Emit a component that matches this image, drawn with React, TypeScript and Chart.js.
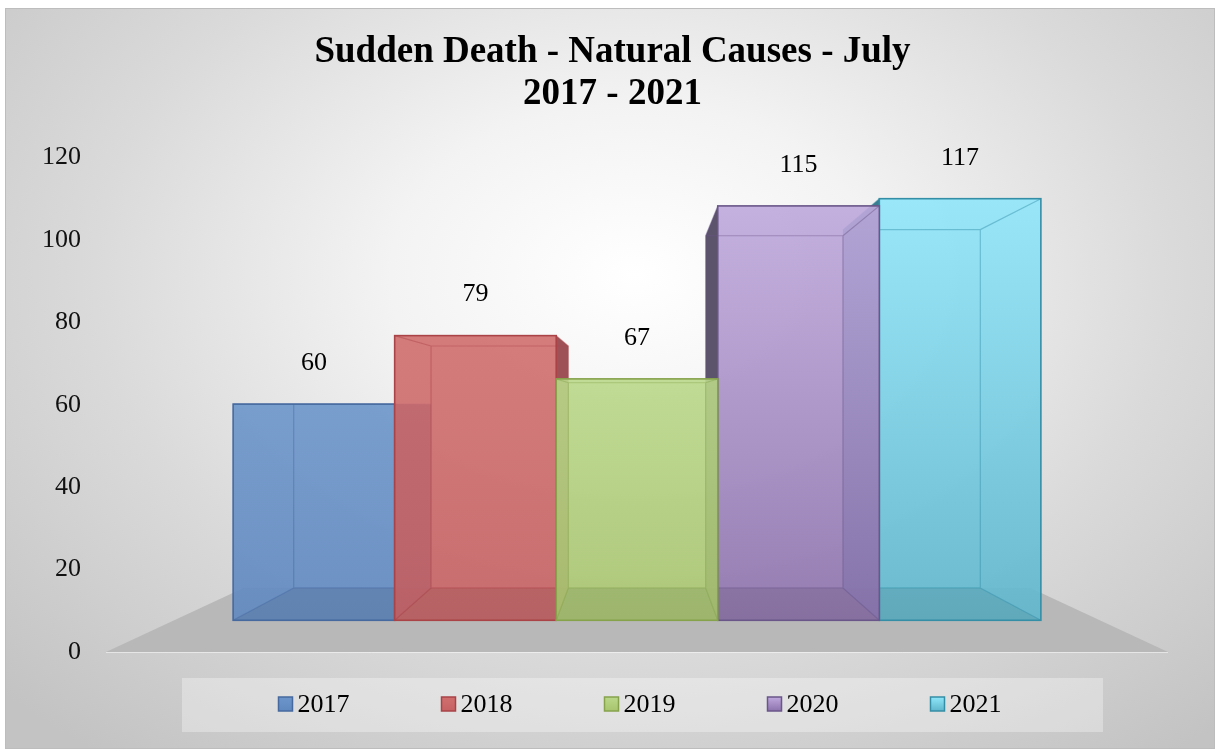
import React, { useEffect, useRef } from 'react';
import { Chart, registerables } from 'chart.js';

Chart.register(...registerables);

// ---- data ----
const titleLines = ['Sudden Death - Natural Causes - July', '2017 - 2021'];
const categories = ['July'];
const seriesNames = ['2017', '2018', '2019', '2020', '2021'];
const seriesValues = [60, 79, 67, 115, 117];
const axisMin = 0;
const axisMax = 120;
const axisStep = 20;

// ---- styles ----
const FONT = "'Liberation Serif', 'Times New Roman', serif";
const palette = [
  { top: '#6c96cb', bottom: '#5f88bf', border: '#46699f', side: '#3e5f92' },
  { top: '#d06e6e', bottom: '#c66163', border: '#a94348', side: '#96434a' },
  { top: '#bad88a', bottom: '#a8c46e', border: '#86a34c', side: '#78934a' },
  { top: '#bfa9dd', bottom: '#8d72ac', border: '#6a5689', side: '#4e4460' },
  { top: '#90e6fa', bottom: '#5fb6cc', border: '#348ea6', side: '#2b7287' },
];
const BOX_DEPTH = 0.15;
const FLOOR_DEPTH = 0.26;
const LABEL_OFFSET = 41;

type P = [number, number];

function toward(p: P, v: P, k: number): P {
  return [p[0] + (v[0] - p[0]) * k, p[1] + (v[1] - p[1]) * k];
}

function poly(ctx: CanvasRenderingContext2D, pts: P[]) {
  ctx.beginPath();
  ctx.moveTo(pts[0][0], pts[0][1]);
  for (let i = 1; i < pts.length; i++) ctx.lineTo(pts[i][0], pts[i][1]);
  ctx.closePath();
}

const boxesPlugin = {
  id: 'boxes3d',
  beforeDraw(chart: any) {
    const { ctx, chartArea: ca } = chart;
    const cx = (ca.left + ca.right) / 2 + 5;
    ctx.save();
    ctx.fillStyle = 'rgba(255,255,255,0.32)';
    ctx.fillRect(cx - 460, ca.bottom + 26, 921, 54);
    ctx.restore();
  },
  beforeDatasetsDraw(chart: any) {
    const { ctx, chartArea: ca } = chart;
    const vp: P = [(ca.left + ca.right) / 2, (ca.top + ca.bottom) / 2];
    const y0 = chart.scales.y.getPixelForValue(0);

    // floor
    const fl: P = [ca.left, y0];
    const fr: P = [ca.right, y0];
    ctx.save();
    ctx.fillStyle = '#b8b8b8';
    poly(ctx, [fl, fr, toward(fr, vp, FLOOR_DEPTH), toward(fl, vp, FLOOR_DEPTH)]);
    ctx.fill();
    ctx.strokeStyle = 'rgba(255,255,255,0.5)';
    ctx.lineWidth = 1;
    ctx.beginPath();
    ctx.moveTo(fl[0], y0 + 0.5);
    ctx.lineTo(fr[0], y0 + 0.5);
    ctx.stroke();
    ctx.restore();

    const items = chart.data.datasets.map((ds: any, i: number) => {
      const el = chart.getDatasetMeta(i).data[0];
      const { x, y, base, width } = el.getProps(['x', 'y', 'base', 'width'], true);
      return { i, l: x - width / 2, r: x + width / 2, t: y, b: base, x };
    });
    const order = [...items].sort((a: any, b: any) => Math.abs(b.x - vp[0]) - Math.abs(a.x - vp[0]));

    order.forEach((it: any) => {
      const c = palette[it.i];
      const FTL: P = [it.l, it.t], FTR: P = [it.r, it.t], FBL: P = [it.l, it.b], FBR: P = [it.r, it.b];
      const BTL = toward(FTL, vp, BOX_DEPTH), BTR = toward(FTR, vp, BOX_DEPTH);
      const BBL = toward(FBL, vp, BOX_DEPTH), BBR = toward(FBR, vp, BOX_DEPTH);
      ctx.save();
      // side faces
      ctx.fillStyle = c.side;
      ctx.globalAlpha = 0.92;
      if (vp[0] < it.l) {
        poly(ctx, [FTL, BTL, BBL, FBL]);
        ctx.fill();
      }
      if (vp[0] > it.r) {
        poly(ctx, [FTR, BTR, BBR, FBR]);
        ctx.fill();
      }
      // front face
      const g = ctx.createLinearGradient(0, it.t, 0, it.b);
      g.addColorStop(0, c.top);
      g.addColorStop(1, c.bottom);
      ctx.fillStyle = g;
      ctx.globalAlpha = 0.9;
      ctx.fillRect(it.l, it.t, it.r - it.l, it.b - it.t);
      // bottom face shading
      ctx.globalAlpha = 1;
      ctx.fillStyle = 'rgba(0,0,0,0.07)';
      poly(ctx, [FBL, FBR, BBR, BBL]);
      ctx.fill();
      // inner (back) edges
      ctx.strokeStyle = c.border;
      ctx.globalAlpha = 0.45;
      ctx.lineWidth = 1.2;
      ctx.beginPath();
      ctx.moveTo(BTL[0], BTL[1]); ctx.lineTo(BTR[0], BTR[1]); ctx.lineTo(BBR[0], BBR[1]);
      ctx.lineTo(BBL[0], BBL[1]); ctx.closePath();
      ctx.moveTo(FTL[0], FTL[1]); ctx.lineTo(BTL[0], BTL[1]);
      ctx.moveTo(FTR[0], FTR[1]); ctx.lineTo(BTR[0], BTR[1]);
      ctx.moveTo(FBL[0], FBL[1]); ctx.lineTo(BBL[0], BBL[1]);
      ctx.moveTo(FBR[0], FBR[1]); ctx.lineTo(BBR[0], BBR[1]);
      ctx.stroke();
      // front border
      ctx.globalAlpha = 1;
      ctx.lineWidth = 1.6;
      ctx.strokeRect(it.l, it.t, it.r - it.l, it.b - it.t);
      ctx.restore();
    });

    // value labels
    ctx.save();
    ctx.fillStyle = '#000';
    ctx.font = `26px ${FONT}`;
    ctx.textAlign = 'center';
    ctx.textBaseline = 'middle';
    items.forEach((it: any) => {
      ctx.fillText(String(chart.data.datasets[it.i].data[0]), it.x, it.t - LABEL_OFFSET);
    });
    ctx.restore();
    return false;
  },
  afterDraw(chart: any) {
    const { ctx, chartArea: ca } = chart;
    const cx = (ca.left + ca.right) / 2;
    const cy = ca.bottom + 52;
    ctx.save();
    ctx.font = `26px ${FONT}`;
    ctx.textBaseline = 'middle';
    ctx.textAlign = 'left';
    const box = 14, gap = 5, spacing = 92;
    const widths = chart.data.datasets.map((ds: any) => box + gap + ctx.measureText(ds.label).width);
    const total = widths.reduce((a: number, b: number) => a + b, 0) + spacing * (widths.length - 1);
    let x = cx - total / 2 + 3;
    chart.data.datasets.forEach((ds: any, i: number) => {
      const c = palette[i];
      const g = ctx.createLinearGradient(0, cy - box / 2, 0, cy + box / 2);
      g.addColorStop(0, c.top);
      g.addColorStop(1, c.bottom);
      ctx.fillStyle = g;
      ctx.fillRect(x, cy - box / 2, box, box);
      ctx.strokeStyle = c.border;
      ctx.lineWidth = 1.5;
      ctx.strokeRect(x, cy - box / 2, box, box);
      ctx.fillStyle = '#000';
      ctx.fillText(ds.label, x + box + gap, cy + 1);
      x += widths[i] + spacing;
    });
    ctx.restore();
  },
};

export default function App() {
  const canvasRef = useRef<HTMLCanvasElement | null>(null);

  useEffect(() => {
    if (!canvasRef.current) return;
    const chart = new Chart(canvasRef.current, {
      type: 'bar',
      data: {
        labels: categories,
        datasets: seriesNames.map((name, i) => ({
          label: name,
          data: [seriesValues[i]],
          xAxisID: 'x',
          yAxisID: 'yBars',
          backgroundColor: palette[i].top,
          borderColor: palette[i].border,
          barPercentage: 1,
          categoryPercentage: 0.7606,
        })),
      },
      options: {
        animation: false,
        responsive: true,
        maintainAspectRatio: false,
        layout: { padding: { left: 12, right: 7, top: 0, bottom: 97 } },
        plugins: {
          legend: { display: false },
          tooltip: { enabled: false },
          title: {
            display: true,
            text: titleLines,
            color: '#000',
            font: { family: FONT, size: 37, weight: 'bold', lineHeight: 1.13 },
            padding: { top: 24, bottom: 42 },
          },
        },
        scales: {
          x: { type: 'category', display: false },
          y: {
            position: 'left',
            min: axisMin,
            max: axisMax,
            ticks: { stepSize: axisStep, color: '#111', padding: 25, font: { family: FONT, size: 26 } },
            grid: { display: false, drawTicks: false },
            border: { display: false },
          },
          yRight: {
            position: 'right',
            min: axisMin,
            max: axisMax,
            ticks: { display: false },
            grid: { display: false, drawTicks: false },
            border: { display: false },
            afterFit: (scale: any) => {
              scale.width = 40;
            },
          },
          yBars: { display: false, min: -8.8, max: 128.4 },
        },
      },
      plugins: [boxesPlugin],
    });
    return () => chart.destroy();
  }, []);

  return (
    <div
      style={{
        position: 'absolute',
        left: 5,
        top: 8,
        width: 1210,
        height: 741,
        background:
          'radial-gradient(ellipse 72% 82% at 52% 36%, #ffffff 0%, #f3f3f3 28%, #dadada 62%, #c3c3c3 100%)',
        boxShadow: 'inset 0 0 0 1px #bdbdbd',
      }}
    >
      <canvas ref={canvasRef} />
    </div>
  );
}
